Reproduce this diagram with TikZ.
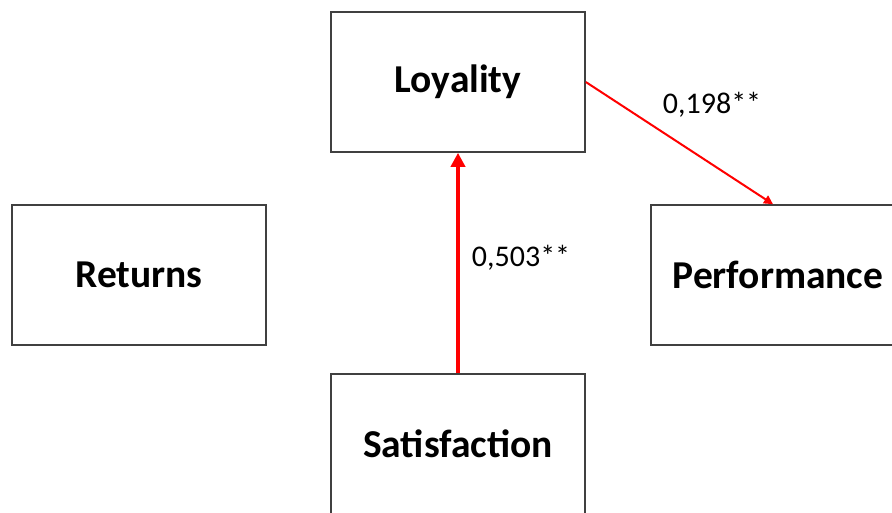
\documentclass[tikz,border=0pt]{standalone}
\usepackage{fontspec}
\setmainfont{Carlito}
\usetikzlibrary{arrows.meta}
\begin{document}
\begin{tikzpicture}[x=1pt,y=-1pt,
  box/.style={draw=black!75, line width=1.6pt, fill=white, minimum width=254pt, minimum height=140pt, inner sep=0pt, font=\fontsize{39.5}{44}\selectfont\bfseries},
  lbl/.style={font=\fontsize{30}{34}\selectfont, inner sep=0pt},
  redarrow/.style={draw=red, -{Triangle[length=#1,width=#1]}}
]
\useasboundingbox (0,0) rectangle (892,512);
\node[box] (loy) at (458,82) {Loyality};
\node[box] (ret) at (139,275) {Returns};
\node[box] (perf) at (778,275) {Performance};
\node[box] (sat) at (458,444) {Satisfaction};
\draw[redarrow=14pt, line width=4pt] (sat.north) -- (loy.south);
\coordinate (pin) at (773,205);
\draw[redarrow=9pt, line width=2pt] (loy.east |- 0,82) -- (perf.north -| pin);
\node[lbl] (l1) at (521,258) {0,503**};
\node[lbl] (l2) at (712,105) {0,198**};
\end{tikzpicture}
\end{document}
